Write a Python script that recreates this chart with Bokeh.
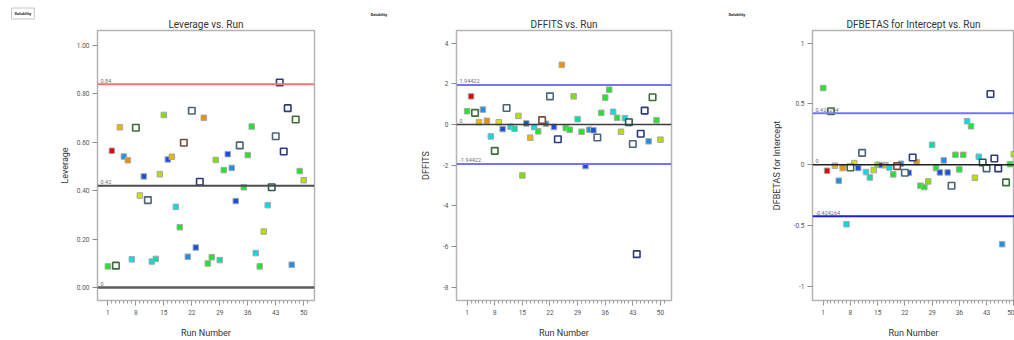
from bokeh.plotting import figure
from bokeh.models import Span, Label, FixedTicker, CustomJSTickFormatter, Range1d, NumeralTickFormatter, Title
from bokeh.layouts import row
from bokeh.embed import file_html
from bokeh.resources import INLINE

# ---------------- data ----------------
runs = list(range(1, 51))
groups = [
    "green", "red", "h_dkgreen", "gold", "skyblue", "orange", "cyan", "h_dkgreen", "yellow", "blue",
    "h_slate", "cyan", "teal", "ylwgreen", "chartreuse", "blue", "gold", "cyan", "green", "h_brown",
    "skyblue", "h_slate", "blue", "h_navy", "orange", "green", "green", "chartreuse", "teal", "green",
    "blue", "skyblue", "blue", "h_slate", "green", "green", "green", "cyan", "green", "ylwgreen",
    "cyan", "h_dkteal", "h_slate", "h_navy", "h_navy", "h_navy", "skyblue", "h_dkgreen", "green", "ylwgreen",
]
leverage = [
    0.087, 0.565, 0.090, 0.662, 0.541, 0.526, 0.116, 0.660, 0.380, 0.459,
    0.361, 0.107, 0.118, 0.468, 0.713, 0.529, 0.540, 0.333, 0.249, 0.598,
    0.127, 0.730, 0.165, 0.437, 0.701, 0.099, 0.125, 0.527, 0.113, 0.485,
    0.551, 0.494, 0.357, 0.587, 0.414, 0.547, 0.665, 0.142, 0.087, 0.231,
    0.340, 0.414, 0.625, 0.847, 0.562, 0.741, 0.094, 0.694, 0.481, 0.443,
]
dffits = [
    0.65, 1.38, 0.57, 0.11, 0.73, 0.18, -0.59, -1.30, 0.11, -0.23,
    0.81, -0.11, -0.21, 0.42, -2.51, 0.05, -0.65, -0.13, -0.34, 0.21,
    0.03, 1.38, -0.13, -0.73, 2.93, -0.18, -0.26, 1.38, 0.26, -0.36,
    -2.05, -0.26, -0.29, -0.64, 0.57, 1.32, 1.71, 0.62, 0.33, -0.36,
    0.31, 0.11, -0.96, -6.38, -0.46, 0.68, -0.83, 1.34, 0.21, -0.75,
]
dfbetas = [
    0.631, -0.049, 0.440, -0.008, -0.131, -0.027, -0.489, -0.022, 0.014, -0.027,
    0.098, -0.060, -0.104, -0.044, 0.000, -0.003, -0.003, -0.022, -0.079, -0.011,
    0.008, -0.066, -0.066, 0.060, 0.022, -0.172, -0.183, -0.137, 0.164, -0.027,
    -0.063, 0.036, -0.063, -0.172, 0.082, -0.038, 0.082, 0.358, 0.317, -0.107,
    0.066, 0.019, -0.030, 0.582, 0.052, -0.030, -0.653, -0.145, 0.005, 0.087,
]
x_ticks = [1, 8, 15, 22, 29, 36, 43, 50]
lev_ticks = [0.0, 0.2, 0.4, 0.6, 0.8, 1.0]
dffits_ticks = [-8, -6, -4, -2, 0, 2, 4]
dfbetas_ticks = [-1, -0.5, 0, 0.5, 1]
lev_refs = [0.84, 0.42, 0.0]
lev_ref_labels = ["0.84", "0.42", "0"]
dffits_refs = [1.94422, -1.94422, 0.0]
dffits_ref_labels = ["1.94422", "-1.94422", "0"]
dfbetas_refs = [0.424264, -0.424264, 0.0]
dfbetas_ref_labels = ["0.424264", "-0.424264", "0"]

# ---------------- styles ----------------
FILLED = {
    "green": "#1ee62a", "red": "#e60000", "gold": "#e8b800", "orange": "#f09000",
    "yellow": "#d8e000", "ylwgreen": "#b4e000", "chartreuse": "#80e000",
    "teal": "#00e0a6", "cyan": "#00dde6", "skyblue": "#1a90e6", "blue": "#1450e6",
}
HOLLOW = {
    "h_dkgreen": "#3c6e3c", "h_slate": "#4a6478", "h_navy": "#2e3a7a",
    "h_brown": "#7a4a3c", "h_dkteal": "#2a5858",
}
FONT = "Roboto"
H = 340
TOP = 30
BOTTOM = 40


def make_panel(title, ylabel, values, yticks, yr, xr, width, left, right,
               refs, ref_labels, ref_colors, ref_widths, sol_off, boxed,
               ylab_standoff, yfmt):
    # 'Solubility' tag is the outermost title row
    extra = dict(standoff=0)
    if boxed:
        extra = dict(border_line_color="#c4c4c4", border_line_width=1,
                     background_fill_color="white", padding=3, standoff=-5)
    tag = Title(text="Solubility", align="left", offset=sol_off,
                text_font=FONT, text_font_size="4px", text_font_style="bold",
                text_color="#222222", **extra)
    p = figure(width=width, height=H, x_range=Range1d(*xr), y_range=Range1d(*yr),
               output_backend="svg", toolbar_location=None, title=tag,
               min_border_left=left, min_border_right=right,
               min_border_top=TOP, min_border_bottom=BOTTOM)
    p.xgrid.visible = False
    p.ygrid.visible = False
    p.outline_line_color = "#b4b4b4"
    p.outline_line_width = 1.5
    p.background_fill_color = "white"
    p.border_fill_color = "white"

    # main title, next to the frame
    p.add_layout(Title(text=title, align="center", standoff=1, text_font=FONT,
                       text_font_size="10px", text_font_style="normal",
                       text_color="#333333"), "above")

    # reference lines
    for v, lab, c, w in zip(refs, ref_labels, ref_colors, ref_widths):
        p.add_layout(Span(location=v, dimension="width", line_color=c, line_width=w))
        p.add_layout(Label(x=xr[0], y=v, x_offset=3, y_offset=1.5, text=lab,
                           text_font=FONT, text_font_size="5.5px", text_color="#6e6e6e",
                           text_baseline="bottom", text_align="left"))

    # markers
    fx, fy, fc = [], [], []
    hx, hy, hc = [], [], []
    for r, v, g in zip(runs, values, groups):
        if g in FILLED:
            fx.append(r); fy.append(v); fc.append(FILLED[g])
        else:
            hx.append(r); hy.append(v); hc.append(HOLLOW[g])
    p.scatter(fx, fy, marker="square", size=5.5, fill_color=fc, line_color="#a8a8a8", line_width=1)
    p.scatter(hx, hy, marker="square", size=6.5, fill_color="white", line_color=hc, line_width=1.6)

    # axes
    xa = p.xaxis[0]
    xa.ticker = FixedTicker(ticks=x_ticks, minor_ticks=list(range(1, 52)))
    xa.axis_line_color = None
    xa.major_tick_out = 5
    xa.major_tick_in = 0
    xa.minor_tick_out = 3
    xa.minor_tick_in = 0
    xa.major_tick_line_color = "#8c8c8c"
    xa.minor_tick_line_color = "#9c9c9c"
    xa.major_label_standoff = 4
    xa.major_label_text_font = FONT
    xa.major_label_text_font_size = "6.5px"
    xa.major_label_text_color = "#555555"
    xa.axis_label = "Run Number"
    xa.axis_label_text_font = FONT
    xa.axis_label_text_font_size = "9px"
    xa.axis_label_text_font_style = "normal"
    xa.axis_label_text_color = "#333333"
    xa.axis_label_standoff = 10

    ya = p.yaxis[0]
    ya.ticker = FixedTicker(ticks=yticks, minor_ticks=[])
    ya.formatter = yfmt
    ya.axis_line_color = None
    ya.major_tick_out = 5
    ya.major_tick_in = 0
    ya.minor_tick_out = 0
    ya.minor_tick_in = 0
    ya.major_tick_line_color = "#8c8c8c"
    ya.major_label_standoff = 3
    ya.major_label_text_font = FONT
    ya.major_label_text_font_size = "6.5px"
    ya.major_label_text_color = "#555555"
    ya.axis_label = ylabel
    ya.axis_label_text_font = FONT
    ya.axis_label_text_font_size = "9px"
    ya.axis_label_text_font_style = "normal"
    ya.axis_label_text_color = "#333333"
    ya.axis_label_standoff = ylab_standoff
    return p


int_fmt = CustomJSTickFormatter(code="return String(tick)")

p1 = make_panel("Leverage vs. Run", "Leverage", leverage, lev_ticks, (-0.054, 1.062),
                (-1.6, 52.7), 340, 97, 26, lev_refs, lev_ref_labels,
                ["#f07474", "#4c4c4c", "#5c5c5c"], [2, 2, 2.5], -86, True,
                4, NumeralTickFormatter(format="0.00"))
p2 = make_panel("DFFITS vs. Run", "DFFITS", dffits, dffits_ticks, (-8.66, 4.62),
                (-1.7, 52.8), 340, 116, 9, dffits_refs, dffits_ref_labels,
                ["#7474f4", "#7474f4", "#3c3c3c"], [2, 2, 1.6], -86, False,
                9, int_fmt)
p3 = make_panel("DFBETAS for Intercept vs. Run", "DFBETAS for Intercept", dfbetas, dfbetas_ticks,
                (-1.116, 1.104), (-1.75, 50.18), 334, 132, 0, dfbetas_refs, dfbetas_ref_labels,
                ["#7474f4", "#1c1cf0", "#202020"], [2, 2, 1.6], -84, False,
                9, int_fmt)

layout = row(p1, p2, p3)
open("out.html", "w").write(file_html(layout, INLINE))
